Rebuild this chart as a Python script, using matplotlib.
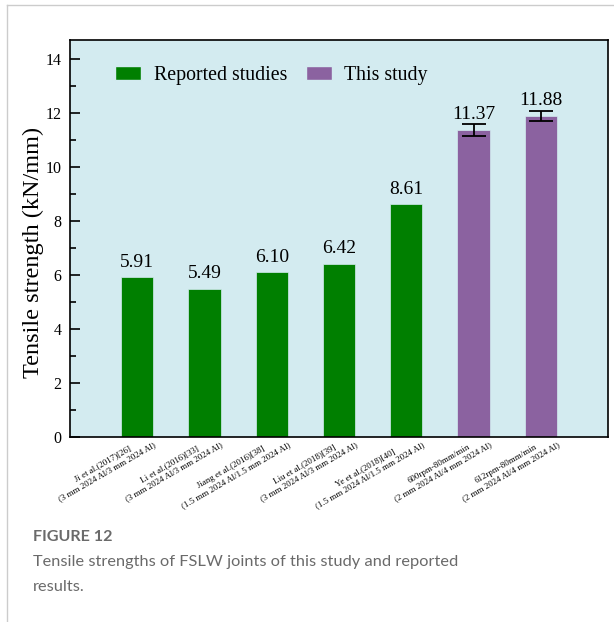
import numpy as np
import matplotlib
matplotlib.use('Agg')
import matplotlib.pyplot as plt
from matplotlib.patches import Patch
from matplotlib.lines import Line2D
from matplotlib.transforms import ScaledTranslation

# tensile strength data (kN/mm)
studies = ['Ji et al.(2017)[26]\n(3 mm 2024 Al/3 mm 2024 Al)',
           'Li et al.(2016)[33]\n(3 mm 2024 Al/3 mm 2024 Al)',
           'Jiang et al.(2016)[38]\n(1.5 mm 2024 Al/1.5 mm 2024 Al)',
           'Liu et al.(2018)[39]\n(3 mm 2024 Al/3 mm 2024 Al)',
           'Ye et al.(2018)[40]\n(1.5 mm 2024 Al/1.5 mm 2024 Al)',
           '600rpm-80mm/min\n(2 mm 2024 Al/4 mm 2024 Al)',
           '612rpm-80mm/min\n(2 mm 2024 Al/4 mm 2024 Al)']
strength = [5.91, 5.49, 6.10, 6.42, 8.61, 11.37, 11.88]
errors = [0, 0, 0, 0, 0, 0.22, 0.18]
is_ours = [False, False, False, False, False, True, True]
yticks = [0, 2, 4, 6, 8, 10, 12, 14]

GREEN = '#007f00'
PURPLE = '#8b62a0'
BG = '#d3ebf0'
SERIF = 'Liberation Serif'

plt.rcParams['font.family'] = [SERIF]

fig = plt.figure(figsize=(6.14, 6.22), dpi=100)
ax = fig.add_axes([70 / 614, 1 - 437 / 622, 538 / 614, 397 / 622])
ax.set_facecolor(BG)

x = np.arange(len(strength))
colors = [PURPLE if o else GREEN for o in is_ours]
ax.bar(x, strength, width=0.48, color=colors, edgecolor=BG, linewidth=0.5, zorder=2)

ours = np.array(is_ours)
ax.errorbar(x[ours], np.array(strength)[ours], yerr=np.array(errors)[ours],
            fmt='none', ecolor='black', elinewidth=1.3, capsize=8.5, capthick=1.3, zorder=3)

for xi, v in zip(x, strength):
    ax.text(xi, v + 0.25, '%.2f' % v, ha='center', va='bottom', fontsize=14, family=SERIF)

ax.set_xlim(-1, 7)
ax.set_ylim(0, 14.7)
ax.set_yticks(yticks, labels=[str(t) for t in yticks], fontfamily=SERIF, fontsize=11.5)
ax.set_yticks(np.arange(1, 15, 2), minor=True)
ax.tick_params(axis='y', which='major', direction='in', length=7, width=1.2, pad=6)
ax.tick_params(axis='y', which='minor', direction='in', length=4, width=1.2)
ax.tick_params(axis='x', which='major', direction='in', length=8, width=1.2, pad=-3)
for s in ax.spines.values():
    s.set_linewidth(1.2)

ax.set_xticks(x)
ax.set_xticklabels(studies, rotation=30, ha='right', fontsize=6.4, multialignment='center',
                   family=SERIF)
shift = ScaledTranslation(20 / 100, 0, fig.dpi_scale_trans)
for lab in ax.get_xticklabels():
    lab.set_transform(lab.get_transform() + shift)

ax.set_ylabel('Tensile strength (kN/mm)', fontsize=17.5, family=SERIF)
ax.yaxis.set_label_coords(-0.048, 0.466)

handles = [Patch(facecolor=GREEN, edgecolor=BG), Patch(facecolor=PURPLE, edgecolor=BG)]
ax.legend(handles, ['Reported studies', 'This study'], loc='upper left', ncol=2,
          frameon=False, prop={'family': SERIF, 'size': 14.3}, bbox_to_anchor=(0.05, 0.98),
          handlelength=1.3, handleheight=0.7, columnspacing=0.95, handletextpad=0.65)

# page frame and caption
fig.add_artist(Line2D([7 / 614, 7 / 614], [0, 1 - 5 / 622], color='#cccccc', lw=1))
fig.add_artist(Line2D([7 / 614, 1], [1 - 5 / 622, 1 - 5 / 622], color='#cccccc', lw=1))
fig.text(33 / 614, 1 - 537 / 622, 'FIGURE 12', family='Lato', weight='bold',
         color='#6a6a6a', fontsize=11.6, va='center')
fig.text(33 / 614, 1 - 562 / 622, 'Tensile strengths of FSLW joints of this study and reported',
         family='Lato', color='#6a6a6a', fontsize=11.75, va='center')
fig.text(33 / 614, 1 - 587 / 622, 'results.', family='Lato', color='#6a6a6a',
         fontsize=11.75, va='center')

fig.savefig('out.png', dpi=100)
